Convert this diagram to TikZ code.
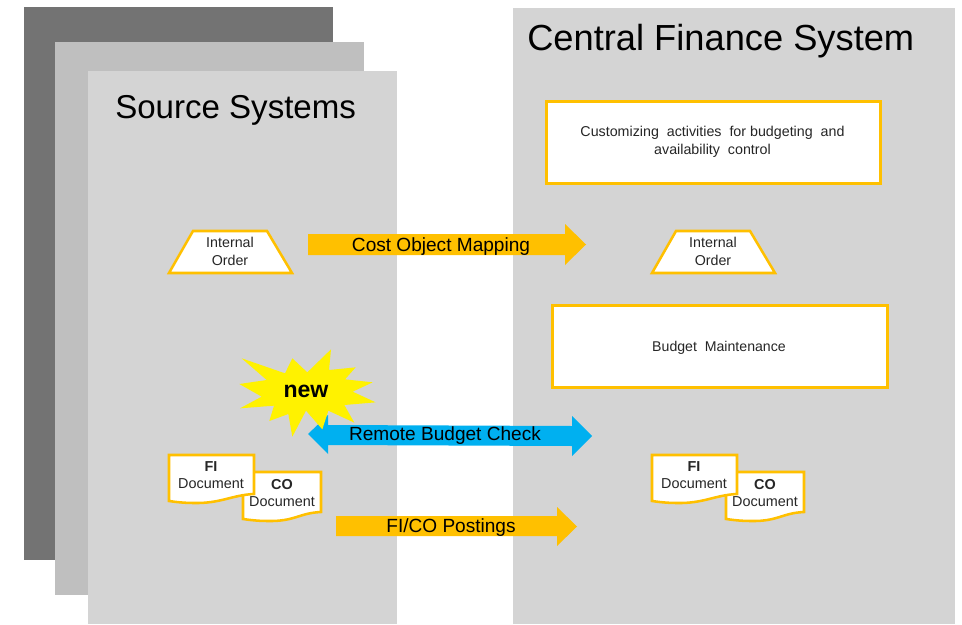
\documentclass[tikz,border=0pt]{standalone}
\usepackage{fontspec}
\setmainfont{Liberation Sans}
\definecolor{gold}{HTML}{FFC000}
\definecolor{dark}{HTML}{737373}
\definecolor{midg}{HTML}{BFBFBF}
\definecolor{lite}{HTML}{D4D4D4}
\definecolor{sky}{HTML}{00B0F0}
\tikzset{
 goldbox/.style={draw=gold,fill=white,line width=1.9pt,miter limit=10},
 blocklabel/.style={font=\fontsize{14.3}{16}\selectfont,text=black,inner sep=0pt},
 small/.style={font=\fontsize{10.7}{13.2}\selectfont,align=center,inner sep=0pt,text=black!85},
 doclabel/.style={font=\fontsize{10.8}{13}\selectfont,align=center,inner sep=0pt,text=black!85},
}
\newcommand{\docshape}[4]{% x0 y0 x1 y1
 \draw[goldbox] (#1,#2) -- (#3,#2) -- (#3,#4)
   .. controls ({#3-22},{#4+1}) and ({#1+52},{#4+9.5}) .. ({#1+25},{#4+9})
   .. controls ({#1+15},{#4+9}) and ({#1+7},{#4+8}) .. (#1,{#4+7}) -- cycle;}
\begin{document}
\begin{tikzpicture}[x=0.75pt,y=-0.75pt]
\useasboundingbox (0,0) rectangle (962,624);
\fill[dark] (24,7) rectangle (333,560);
\fill[midg] (55,42) rectangle (364,595);
\fill[lite] (88,71) rectangle (397,624);
\fill[lite] (513,8) rectangle (955,624);
\node[font=\fontsize{24.8}{30}\selectfont,inner sep=0pt,anchor=base west] (src) at (115,118) {Source Systems};
\node[font=\fontsize{27.2}{30}\selectfont,inner sep=0pt,anchor=base west] (cen) at (527,51) {Central Finance System};
% boxes
\node[goldbox,minimum width=334*0.75pt,minimum height=82*0.75pt,anchor=north west,inner sep=0pt] (cust) at (545,100) {};
\node[font=\fontsize{10.7}{13.5}\selectfont,align=center,text=black!85,inner sep=0pt] (custt) at (712.5,142)
 {Customizing\ \ activities\ \ for budgeting\ \ and\\availability\ \ control};
\node[goldbox,minimum width=335*0.75pt,minimum height=82*0.75pt,anchor=north west,inner sep=0pt] (bud) at (551,304) {};
\node[font=\fontsize{10.6}{13}\selectfont,text=black!85,inner sep=0pt] (budt) at (719,348) {Budget\ \ Maintenance};
% trapezoids
\draw[goldbox] (169,273) -- (193,231) -- (267,231) -- (292,273) -- cycle;
\node[small] (io1) at (230,251.5) {Internal\\Order};
\draw[goldbox] (652,273) -- (676,231) -- (750,231) -- (775,273) -- cycle;
\node[small] (io2) at (713,251.5) {Internal\\Order};
% block arrows
\fill[gold] (308,234) -- (565,234) -- (565,224) -- (586,244.5) -- (565,265) -- (565,255) -- (308,255) -- cycle;
\node[blocklabel] (cost) at (441,246.5) {Cost Object Mapping};
\fill[sky] (308,434) -- (328,415) -- (328,425) -- (572,426) -- (572,416) -- (592,436) -- (572,456) -- (572,446) -- (328,445) -- (328,454) -- cycle;
\node[blocklabel] (rem) at (445,436) {Remote Budget Check};
\fill[gold] (336,516) -- (557,516) -- (557,507) -- (577,526.5) -- (557,546) -- (557,536) -- (336,536) -- cycle;
\node[blocklabel] (post) at (451,528) {FI/CO Postings};
% star
\begin{scope}[shift={(230,340)},x=0.25pt,y=-0.25pt]
\fill[yellow] (35,55) -- (165,100) -- (187,55) -- (232,97) -- (303,28) -- (297,90) -- (377,82) -- (345,118) -- (428,127) -- (368,155) -- (437,187) -- (343,195) -- (373,248) -- (295,212) -- (277,268) -- (228,212) -- (187,290) -- (175,222) -- (118,243) -- (132,197) -- (30,205) -- (95,170) -- (28,132) -- (110,120) -- cycle;
\end{scope}
\node[font=\bfseries\fontsize{17.3}{20}\selectfont,inner sep=0pt] (new) at (306,391.5) {new};
% documents
\docshape{243}{472}{321}{512}
\node[doclabel] (co1) at (282,493) {\textbf{CO}\\Document};
\docshape{169}{455}{254}{494}
\node[doclabel] (fi1) at (211,475) {\textbf{FI}\\Document};
\docshape{726}{472}{804}{512}
\node[doclabel] (co2) at (765,493) {\textbf{CO}\\Document};
\docshape{652}{455}{737}{494}
\node[doclabel] (fi2) at (694,475) {\textbf{FI}\\Document};
\end{tikzpicture}
\end{document}
